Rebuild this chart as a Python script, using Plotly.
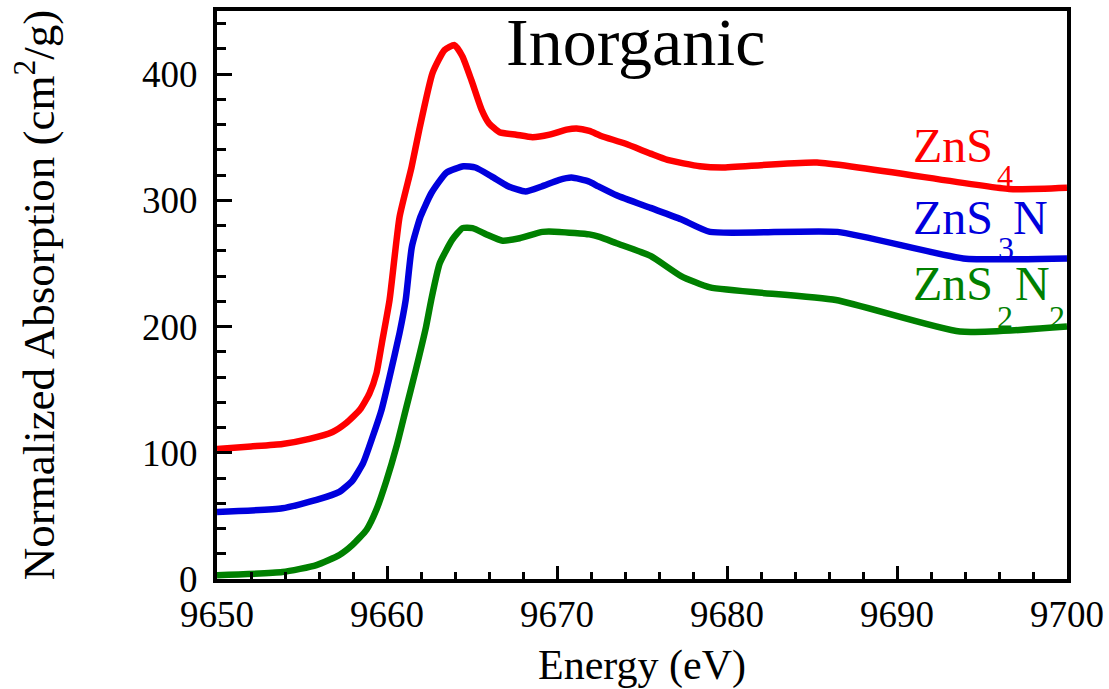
import plotly.graph_objects as go

# X-ray absorption near-edge spectra, Zn K-edge
energy_zns4 = [9650, 9652, 9653.85, 9655.44, 9656.8, 9657.6, 9658.4, 9658.97, 9659.38, 9659.7,
               9660.15, 9660.74, 9661.44, 9661.9, 9662.68, 9663.38, 9663.97, 9664.44, 9664.97, 9665.56,
               9666.0, 9666.62, 9667.6, 9668.56, 9669.56, 9670.56, 9671.15, 9671.9, 9672.6, 9674,
               9675.5, 9676.5, 9678.4, 9679.7, 9685.3, 9696.6, 9700]
absorb_zns4 = [103, 105, 107, 111, 116.5, 123.6, 134, 147, 163, 187,
               221, 287, 326, 356, 401, 419, 423, 414, 395, 372,
               361, 354, 352, 350, 352, 356, 357, 355, 351, 345,
               337, 332, 327, 326, 330, 309, 310]

energy_zns3n = [9650, 9653.85, 9655.85, 9657.2, 9657.97, 9658.6, 9659.15, 9659.68, 9660.15, 9660.74,
                9661.1, 9661.46, 9661.97, 9662.62, 9663.5, 9664.5, 9665.2, 9666.15, 9667.15, 9668.15,
                9669.1, 9670.1, 9670.85, 9671.85, 9672.44, 9673.5, 9675.5, 9677.3, 9679.0, 9686.5,
                9693.9, 9700]
absorb_zns3n = [53, 56, 62.6, 69, 78, 92, 112.5, 134, 160, 195,
                221, 263, 287, 306, 322, 327, 326, 319, 311, 307,
                311, 316, 318, 315, 311, 304, 294, 285, 275, 275,
                254, 254]

energy_zns2n2 = [9650, 9653.85, 9655.85, 9657.2, 9657.97, 9658.8, 9659.38, 9659.97, 9660.56, 9661.1,
                 9661.7, 9662.3, 9662.6, 9663.1, 9663.85, 9664.44, 9665.03, 9665.85, 9666.8, 9667.8,
                 9669.15, 9670.15, 9671.9, 9672.5, 9673.5, 9675.5, 9677.3, 9679.0, 9686.4, 9693.7,
                 9700]
absorb_zns2n2 = [3, 5.5, 11, 19, 27, 39, 55, 78, 105, 134,
                 166, 200, 221, 250, 269, 278, 278, 273, 268, 270,
                 275, 275, 273, 271, 266, 256, 240, 231, 221, 196,
                 200]

x_ticks = [9650, 9660, 9670, 9680, 9690, 9700]
y_ticks = [0, 100, 200, 300, 400]

RED = "rgb(255,0,0)"
BLUE = "rgb(0,0,221)"
GREEN = "rgb(0,128,0)"
SERIF = "Liberation Serif"

fig = go.Figure()
for xs, ys, col, name in [
    (energy_zns4, absorb_zns4, RED, "ZnS4"),
    (energy_zns3n, absorb_zns3n, BLUE, "ZnS3N"),
    (energy_zns2n2, absorb_zns2n2, GREEN, "ZnS2N2"),
]:
    fig.add_trace(go.Scatter(x=xs, y=ys, mode="lines", name=name,
                             line=dict(color=col, width=6.5, shape="spline", smoothing=0.5),
                             showlegend=False))

# Curve labels; subscripts are placed as separate text pieces
LBL = 48
SUB = 32
labels = [
    ("ZnS", 9690.85, 343.5, LBL, RED),
    ("4", 9695.74, 319.3, SUB, RED),
    ("ZnS", 9690.85, 286.5, LBL, BLUE),
    ("3", 9695.85, 262.3, SUB, BLUE),
    ("N", 9696.7, 286.5, LBL, BLUE),
    ("ZnS", 9690.85, 233.8, LBL, GREEN),
    ("2", 9695.74, 207.6, SUB, GREEN),
    ("N", 9696.85, 233.8, LBL, GREEN),
    ("2", 9698.8, 207.6, SUB, GREEN),
    ("Inorganic", 9666.9, 425.5, 68, "black"),
]
for txt, x, y, size, col in labels:
    fig.add_annotation(x=x, y=y, xref="x", yref="y", text=txt, showarrow=False,
                       xanchor="left", yanchor="middle",
                       font=dict(family=SERIF, size=size, color=col))

axis_common = dict(
    showline=True, linecolor="black", linewidth=4, mirror=True,
    showgrid=False, zeroline=False,
    ticks="inside", tickcolor="black", tickwidth=3,
    tickfont=dict(family=SERIF, size=37, color="black"),
)

fig.update_xaxes(
    range=[9650, 9700], tickvals=x_ticks, ticklen=13,
    minor=dict(ticks="inside", dtick=2, ticklen=7, tickwidth=3, tickcolor="black"),
    title=dict(text="Energy (eV)", font=dict(family=SERIF, size=42, color="black"), standoff=17),
    **axis_common,
)
fig.update_yaxes(
    range=[0, 450], tickvals=y_ticks, ticklen=15,
    minor=dict(ticks="inside", dtick=20, ticklen=9, tickwidth=3, tickcolor="black"),
    title=dict(text="Normalized Absorption (cm<sup>2</sup>/g)",
               font=dict(family=SERIF, size=45, color="black"), standoff=74),
    ticklabelstandoff=8,
    **axis_common,
)

fig.update_layout(
    width=1109, height=689,
    margin=dict(l=217, r=42, t=11, b=110, autoexpand=False),
    plot_bgcolor="white", paper_bgcolor="white",
    font=dict(family=SERIF, color="black"),
)

fig.write_html("out.html")
